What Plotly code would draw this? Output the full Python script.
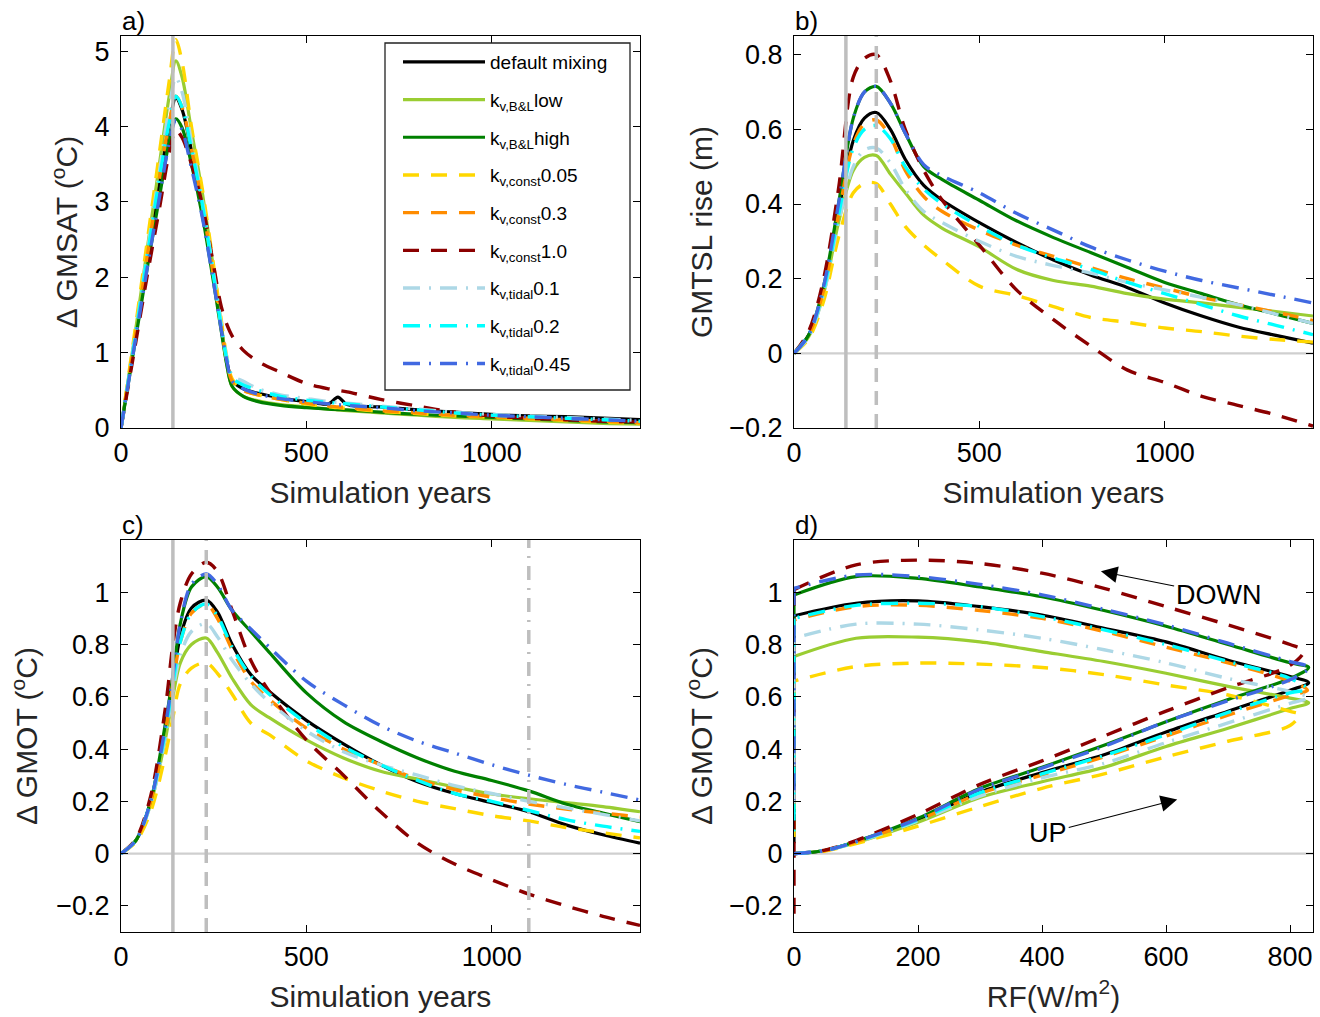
import plotly.graph_objects as go

# ---------------- data ----------------
names = ["default mixing", "k<sub>v,B&amp;L</sub>low", "k<sub>v,B&amp;L</sub>high",
         "k<sub>v,const</sub>0.05", "k<sub>v,const</sub>0.3", "k<sub>v,const</sub>1.0",
         "k<sub>v,tidal</sub>0.1", "k<sub>v,tidal</sub>0.2", "k<sub>v,tidal</sub>0.45"]
keys = ["default", "bl_low", "bl_high", "c005", "c03", "c10", "t01", "t02", "t045"]

# panel a: GMSAT anomaly (degC)
years_a = [0, 35, 70, 105, 130, 148, 165, 190, 220, 250, 270, 285, 300, 330, 370, 430,
           500, 560, 585, 610, 700, 800, 900, 1000, 1100, 1200, 1300, 1400]
gmsat = {
    "default": [0, 1.1, 2.2, 3.3, 4.02, 4.38, 4.22, 3.68, 2.92, 2.0, 1.35, 0.9, 0.63, 0.52, 0.46, 0.4,
                0.35, 0.32, 0.41, 0.31, 0.28, 0.24, 0.21, 0.18, 0.16, 0.15, 0.13, 0.11],
    "bl_low": [0, 1.15, 2.35, 3.55, 4.4, 4.87, 4.65, 3.95, 3.1, 2.1, 1.4, 0.85, 0.55, 0.42, 0.36, 0.31,
               0.28, 0.25, 0.24, 0.23, 0.2, 0.17, 0.14, 0.12, 0.1, 0.08, 0.06, 0.05],
    "bl_high": [0, 1.05, 2.1, 3.1, 3.8, 4.1, 3.98, 3.5, 2.8, 1.92, 1.3, 0.85, 0.55, 0.42, 0.35, 0.3,
                0.27, 0.25, 0.245, 0.24, 0.21, 0.18, 0.16, 0.14, 0.12, 0.1, 0.08, 0.07],
    "c005": [0, 1.2, 2.45, 3.7, 4.6, 5.15, 4.85, 4.0, 3.15, 2.15, 1.45, 0.95, 0.65, 0.5, 0.44, 0.38,
             0.32, 0.28, 0.27, 0.26, 0.22, 0.19, 0.16, 0.14, 0.12, 0.1, 0.08, 0.06],
    "c03": [0, 1.1, 2.25, 3.35, 4.05, 4.4, 4.25, 3.7, 2.95, 2.0, 1.35, 0.9, 0.62, 0.5, 0.44, 0.38,
            0.33, 0.29, 0.28, 0.27, 0.23, 0.2, 0.17, 0.15, 0.13, 0.11, 0.09, 0.07],
    "c10": [0, 1.0, 2.0, 2.95, 3.65, 3.95, 3.85, 3.5, 2.95, 2.15, 1.62, 1.38, 1.22, 1.03, 0.88, 0.74,
            0.59, 0.52, 0.5, 0.48, 0.38, 0.29, 0.21, 0.16, 0.13, 0.11, 0.09, 0.08],
    "t01": [0, 1.12, 2.3, 3.45, 4.25, 4.65, 4.45, 3.8, 3.0, 2.05, 1.4, 0.95, 0.7, 0.62, 0.52, 0.44,
            0.39, 0.35, 0.34, 0.33, 0.29, 0.25, 0.21, 0.18, 0.16, 0.14, 0.12, 0.1],
    "t02": [0, 1.1, 2.25, 3.35, 4.05, 4.4, 4.25, 3.7, 2.95, 2.0, 1.35, 0.92, 0.67, 0.57, 0.5, 0.42,
            0.37, 0.34, 0.33, 0.32, 0.28, 0.24, 0.2, 0.17, 0.15, 0.13, 0.11, 0.09],
    "t045": [0, 1.05, 2.1, 3.1, 3.78, 4.08, 3.95, 3.45, 2.78, 1.92, 1.32, 0.9, 0.62, 0.52, 0.45, 0.39,
             0.35, 0.32, 0.31, 0.3, 0.27, 0.23, 0.2, 0.17, 0.15, 0.13, 0.11, 0.09],
}

# panel b: GMTSL rise (m)
years_b = [0, 40, 80, 120, 160, 190, 222, 260, 300, 350, 400, 500, 600, 700, 800, 900, 1000,
           1100, 1200, 1300, 1400]
gmtsl = {
    "default": [0, 0.05, 0.17, 0.38, 0.57, 0.63, 0.645, 0.60, 0.52, 0.45, 0.41, 0.35, 0.297, 0.25,
                0.21, 0.176, 0.135, 0.10, 0.07, 0.048, 0.027],
    "bl_low": [0, 0.045, 0.16, 0.35, 0.49, 0.525, 0.53, 0.48, 0.43, 0.37, 0.335, 0.285, 0.225, 0.195,
               0.18, 0.16, 0.145, 0.135, 0.123, 0.112, 0.10],
    "bl_high": [0, 0.05, 0.18, 0.40, 0.63, 0.70, 0.715, 0.67, 0.59, 0.50, 0.465, 0.41, 0.355, 0.31,
                0.27, 0.23, 0.19, 0.16, 0.13, 0.105, 0.08],
    "c005": [0, 0.04, 0.14, 0.31, 0.43, 0.455, 0.455, 0.40, 0.34, 0.29, 0.25, 0.18, 0.155, 0.125,
             0.096, 0.083, 0.068, 0.058, 0.046, 0.037, 0.03],
    "c03": [0, 0.05, 0.17, 0.37, 0.56, 0.615, 0.625, 0.58, 0.49, 0.42, 0.38, 0.33, 0.29, 0.26, 0.23,
            0.20, 0.175, 0.15, 0.13, 0.11, 0.088],
    "c10": [0, 0.06, 0.20, 0.44, 0.74, 0.79, 0.80, 0.73, 0.60, 0.49, 0.41, 0.29, 0.17, 0.09, 0.02,
            -0.045, -0.078, -0.115, -0.14, -0.165, -0.195],
    "t01": [0, 0.045, 0.16, 0.35, 0.50, 0.545, 0.55, 0.51, 0.44, 0.38, 0.35, 0.30, 0.26, 0.235, 0.215,
            0.19, 0.17, 0.15, 0.13, 0.105, 0.08],
    "t02": [0, 0.05, 0.17, 0.37, 0.55, 0.60, 0.61, 0.575, 0.50, 0.44, 0.40, 0.34, 0.29, 0.255, 0.225,
            0.19, 0.16, 0.13, 0.10, 0.075, 0.05],
    "t045": [0, 0.05, 0.18, 0.40, 0.63, 0.70, 0.715, 0.67, 0.59, 0.505, 0.475, 0.43, 0.375, 0.33,
             0.285, 0.25, 0.22, 0.195, 0.175, 0.155, 0.135],
}

# panel c: GMOT anomaly (degC)
years_c = [0, 40, 80, 120, 140, 160, 190, 230, 260, 300, 350, 400, 500, 600, 700, 800, 900, 1000,
           1100, 1200, 1300, 1400]
gmot = {
    "default": [0, 0.05, 0.2, 0.47, 0.66, 0.83, 0.94, 0.97, 0.925, 0.80, 0.685, 0.62, 0.51, 0.42,
                0.34, 0.275, 0.23, 0.195, 0.16, 0.11, 0.072, 0.04],
    "bl_low": [0, 0.05, 0.19, 0.44, 0.60, 0.73, 0.80, 0.825, 0.77, 0.67, 0.57, 0.52, 0.435, 0.366,
               0.315, 0.285, 0.255, 0.228, 0.21, 0.195, 0.18, 0.16],
    "bl_high": [0, 0.05, 0.2, 0.5, 0.68, 0.88, 1.02, 1.06, 1.02, 0.93, 0.85, 0.77, 0.615, 0.505,
                0.43, 0.366, 0.315, 0.28, 0.24, 0.19, 0.155, 0.122],
    "c005": [0, 0.045, 0.16, 0.38, 0.52, 0.65, 0.71, 0.73, 0.69, 0.61, 0.50, 0.455, 0.355, 0.29,
             0.24, 0.20, 0.172, 0.145, 0.125, 0.10, 0.08, 0.06],
    "c03": [0, 0.05, 0.2, 0.47, 0.65, 0.81, 0.92, 0.955, 0.90, 0.78, 0.66, 0.59, 0.48, 0.40, 0.34,
            0.285, 0.245, 0.215, 0.19, 0.17, 0.155, 0.14],
    "c10": [0, 0.055, 0.22, 0.56, 0.80, 0.96, 1.07, 1.115, 1.08, 0.93, 0.74, 0.62, 0.435, 0.30,
            0.16, 0.04, -0.04, -0.10, -0.155, -0.20, -0.24, -0.275],
    "t01": [0, 0.05, 0.19, 0.45, 0.62, 0.76, 0.85, 0.88, 0.83, 0.74, 0.65, 0.58, 0.47, 0.39, 0.34,
            0.30, 0.26, 0.23, 0.20, 0.175, 0.15, 0.125],
    "t02": [0, 0.05, 0.2, 0.47, 0.65, 0.81, 0.92, 0.955, 0.91, 0.79, 0.68, 0.61, 0.50, 0.41, 0.34,
            0.28, 0.23, 0.20, 0.165, 0.13, 0.105, 0.085],
    "t045": [0, 0.05, 0.2, 0.49, 0.68, 0.88, 1.03, 1.07, 1.03, 0.93, 0.86, 0.79, 0.66, 0.57, 0.49,
             0.43, 0.385, 0.34, 0.30, 0.265, 0.235, 0.205],
}

# panel d: GMOT vs RF (hysteresis loop)
rf_up = [0, 50, 100, 200, 300, 400, 500, 600, 700, 800]
rf_down = [800, 700, 600, 500, 400, 300, 200, 100, 0]
rf_tip = {"default": 830, "bl_low": 830, "bl_high": 830, "c005": 815, "c03": 828,
          "c10": 822, "t01": 830, "t02": 828, "t045": 831}
gmot_tip = {"default": 0.654, "bl_low": 0.577, "bl_high": 0.712, "c005": 0.533, "c03": 0.625,
            "c10": 0.775, "t01": 0.597, "t02": 0.63, "t045": 0.712}
gmot_up = {
    "default": [0, 0.012, 0.045, 0.13, 0.235, 0.31, 0.378, 0.465, 0.545, 0.625],
    "bl_low": [0, 0.012, 0.042, 0.12, 0.215, 0.275, 0.33, 0.41, 0.48, 0.555],
    "bl_high": [0, 0.012, 0.046, 0.135, 0.25, 0.33, 0.415, 0.505, 0.59, 0.67],
    "c005": [0, 0.01, 0.038, 0.105, 0.18, 0.25, 0.305, 0.37, 0.43, 0.49],
    "c03": [0, 0.012, 0.045, 0.128, 0.23, 0.30, 0.37, 0.45, 0.53, 0.605],
    "c10": [0, 0.013, 0.05, 0.15, 0.265, 0.355, 0.45, 0.545, 0.635, 0.72],
    "t01": [0, 0.012, 0.043, 0.125, 0.22, 0.29, 0.345, 0.425, 0.50, 0.575],
    "t02": [0, 0.012, 0.045, 0.13, 0.233, 0.305, 0.375, 0.455, 0.54, 0.615],
    "t045": [0, 0.012, 0.046, 0.133, 0.247, 0.327, 0.41, 0.505, 0.585, 0.665],
}
gmot_down = {
    "default": [0.678, 0.74, 0.81, 0.862, 0.913, 0.945, 0.967, 0.958, 0.91],
    "bl_low": [0.595, 0.64, 0.69, 0.735, 0.773, 0.81, 0.828, 0.824, 0.754],
    "bl_high": [0.73, 0.80, 0.87, 0.93, 0.983, 1.02, 1.053, 1.06, 0.99],
    "c005": [0.544, 0.607, 0.645, 0.685, 0.712, 0.725, 0.729, 0.716, 0.66],
    "c03": [0.66, 0.73, 0.79, 0.85, 0.90, 0.93, 0.95, 0.945, 0.894],
    "c10": [0.80, 0.875, 0.945, 1.015, 1.073, 1.11, 1.123, 1.105, 1.01],
    "t01": [0.62, 0.67, 0.73, 0.78, 0.824, 0.856, 0.878, 0.878, 0.824],
    "t02": [0.67, 0.735, 0.80, 0.856, 0.907, 0.945, 0.958, 0.95, 0.90],
    "t045": [0.735, 0.805, 0.875, 0.935, 0.99, 1.03, 1.06, 1.066, 1.015],
}

# reference years marked by vertical grey lines
forcing_peak_year = 140
gmtsl_peak_year = 222
gmot_peak_year = 230
gmot_late_year = 1100

# ---------------- styles ----------------
DASH = "16px,12px"
DASHDOT = "17px,9px,2px,9px"
styles = {
    "default": dict(color="#000000", dash="solid", width=3.2),
    "bl_low": dict(color="#9ACD32", dash="solid", width=3.2),
    "bl_high": dict(color="#008000", dash="solid", width=3.2),
    "c005": dict(color="#FFD700", dash=DASH, width=3.4),
    "c03": dict(color="#FF8C00", dash=DASH, width=3.4),
    "c10": dict(color="#8B0000", dash=DASH, width=3.4),
    "t01": dict(color="#ADD8E6", dash=DASHDOT, width=3.4),
    "t02": dict(color="#00FFFF", dash=DASHDOT, width=3.4),
    "t045": dict(color="#4169E1", dash=DASHDOT, width=3.4),
}

FONT = "Liberation Sans, Arial, Helvetica, sans-serif"
TICK = 27
TITLE = 30
W, H = 1320, 1017

fig = go.Figure()

def add(xs, ys, k, xa, ya, legend=False, name=None, shape="spline"):
    st = styles[k]
    fig.add_trace(go.Scatter(
        x=xs, y=ys, mode="lines", name=name, showlegend=legend,
        legendgroup=k,
        line=dict(color=st["color"], dash=st["dash"], width=st["width"], shape=shape, smoothing=0.9),
        xaxis=xa, yaxis=ya, hoverinfo="skip"))

for k, nm in zip(keys, names):
    add(years_a, gmsat[k], k, "x", "y", legend=True, name=nm)
for k in keys:
    add(years_b, gmtsl[k], k, "x2", "y2")
for k in keys:
    add(years_c, gmot[k], k, "x3", "y3")
for k in keys:
    xs = rf_up + [rf_tip[k]] + rf_down
    ys = gmot_up[k] + [gmot_tip[k]] + gmot_down[k]
    add(xs, ys, k, "x4", "y4")
    # after the forcing is back to zero, GMOT keeps evolving at RF = 0
    add([rf_down[-1], rf_down[-1]], [gmot_down[k][-1], gmot[k][-1]], k, "x4", "y4", shape="linear")

# ---------------- layout ----------------
xa_dom = [121 / W, 640 / W]
xb_dom = [794 / W, 1313 / W]
top_dom = [1 - 428 / H, 1 - 36 / H]
bot_dom = [1 - 932 / H, 1 - 540 / H]

def axis(dom, rng, anchor, title=None, dtick=None, tickvals=None, standoff=8, lblpad=3):
    d = dict(domain=dom, range=rng, anchor=anchor, showline=True, linecolor="black", linewidth=1.3,
             mirror="ticks", ticks="inside", ticklen=7, tickwidth=1.2, tickcolor="black",
             showgrid=False, zeroline=False, ticklabelstandoff=lblpad, automargin=False,
             tickfont=dict(size=TICK, color="black", family=FONT))
    if dtick is not None:
        d["dtick"] = dtick
    if tickvals is not None:
        d["tickvals"] = tickvals
        d["tickmode"] = "array"
    if title:
        d["title"] = dict(text=title, font=dict(size=TITLE, color="#262626", family=FONT), standoff=standoff)
    return d

YSO = 7
XSO = 15
XPAD = 0
fig.update_layout(
    width=W, height=H, margin=dict(l=0, r=0, t=0, b=0, autoexpand=False),
    paper_bgcolor="white", plot_bgcolor="white",
    font=dict(family=FONT, color="black"),
    xaxis=axis(xa_dom, [0, 1400], "y", "Simulation years", tickvals=[0, 500, 1000], standoff=XSO, lblpad=XPAD),
    yaxis=axis(top_dom, [0, 5.2], "x", "Δ GMSAT (<sup>o</sup>C)", dtick=1, standoff=YSO, lblpad=5),
    xaxis2=axis(xb_dom, [0, 1400], "y2", "Simulation years", tickvals=[0, 500, 1000], standoff=XSO, lblpad=XPAD),
    yaxis2=axis(top_dom, [-0.2, 0.85], "x2", "GMTSL rise (m)", tickvals=[-0.2, 0, 0.2, 0.4, 0.6, 0.8],
                standoff=YSO, lblpad=5),
    xaxis3=axis(xa_dom, [0, 1400], "y3", "Simulation years", tickvals=[0, 500, 1000], standoff=XSO, lblpad=XPAD),
    yaxis3=axis(bot_dom, [-0.3, 1.2], "x3", "Δ GMOT (<sup>o</sup>C)",
                tickvals=[-0.2, 0, 0.2, 0.4, 0.6, 0.8, 1], standoff=YSO + 2, lblpad=5),
    xaxis4=axis(xb_dom, [0, 837], "y4", "RF(W/m<sup>2</sup>)", tickvals=[0, 200, 400, 600, 800],
                standoff=XSO, lblpad=XPAD),
    yaxis4=axis(bot_dom, [-0.3, 1.2], "x4", "Δ GMOT (<sup>o</sup>C)",
                tickvals=[-0.2, 0, 0.2, 0.4, 0.6, 0.8, 1], standoff=YSO, lblpad=5),
    legend=dict(x=398 / W, y=1 - 43 / H, xanchor="left", yanchor="top",
                bgcolor="rgba(0,0,0,0)", borderwidth=0,
                font=dict(size=19, family=FONT, color="black"),
                itemwidth=82, tracegroupgap=10, traceorder="grouped"),
)

GREY = "#BEBEBE"
shapes = []
def vline(xv, xr, yr, dash):
    shapes.append(dict(type="line", xref=xr, yref=yr + " domain", x0=xv, x1=xv, y0=0, y1=1,
                       line=dict(color=GREY, width=3.5, dash=dash), layer="above"))
def hzero(xr, yr):
    shapes.append(dict(type="line", xref=xr + " domain", yref=yr, x0=0, x1=1, y0=0, y1=0,
                       line=dict(color="#CFCFCF", width=2.2), layer="below"))

vline(forcing_peak_year, "x", "y", "solid")
vline(forcing_peak_year, "x2", "y2", "solid")
vline(gmtsl_peak_year, "x2", "y2", "14px,9px")
vline(forcing_peak_year, "x3", "y3", "solid")
vline(gmot_peak_year, "x3", "y3", "14px,9px")
vline(gmot_late_year, "x3", "y3", "14px,8px,2px,8px")
hzero("x2", "y2")
hzero("x3", "y3")
hzero("x4", "y4")
# legend frame (opaque box inside panel a)
shapes.append(dict(type="rect", xref="paper", yref="paper", x0=385 / W, x1=630 / W,
                   y0=1 - 390 / H, y1=1 - 43 / H, fillcolor="white",
                   line=dict(color="#222222", width=1.3), layer="above"))
fig.update_layout(shapes=shapes)

ann = []
for lbl, xd, yd in [("a)", xa_dom, top_dom), ("b)", xb_dom, top_dom), ("c)", xa_dom, bot_dom), ("d)", xb_dom, bot_dom)]:
    ann.append(dict(text=lbl, xref="paper", yref="paper", x=xd[0] - 0.001, y=yd[1], xanchor="left",
                    yanchor="bottom", showarrow=False, yshift=-2,
                    font=dict(size=TICK - 1, family=FONT, color="black")))
ann.append(dict(text="DOWN", xref="x4", yref="y4", x=495, y=1.08, ax=684, ay=0.99,
                axref="x4", ayref="y4", showarrow=True, arrowhead=2, arrowsize=3, arrowwidth=1.1,
                arrowcolor="black", font=dict(size=TICK, family=FONT, color="black")))
ann.append(dict(text="UP", xref="x4", yref="y4", x=618, y=0.207, ax=410, ay=0.08,
                axref="x4", ayref="y4", showarrow=True, arrowhead=2, arrowsize=3, arrowwidth=1.1,
                arrowcolor="black", font=dict(size=TICK, family=FONT, color="black")))
fig.update_layout(annotations=ann)

fig.write_html("out.html", config={"displayModeBar": False},
               post_script="document.body.style.margin='0';document.body.style.overflow='hidden';")
